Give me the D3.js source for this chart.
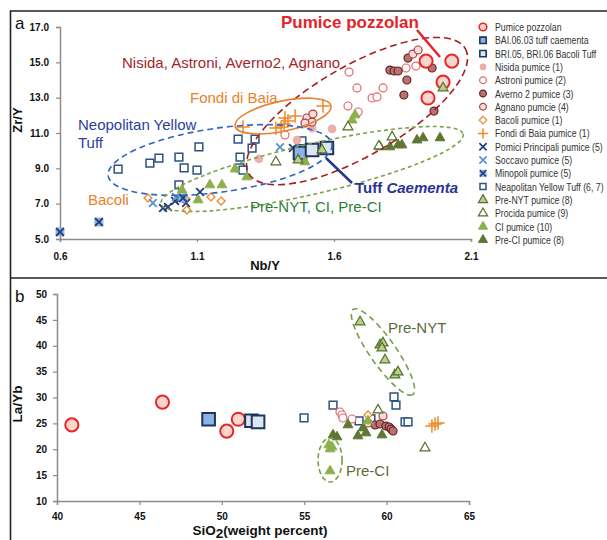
<!DOCTYPE html>
<html lang="en">
<head>
<meta charset="UTF-8">
<title>Zr/Y vs Nb/Y and La/Yb vs SiO2</title>
<style>
  body { margin: 0; background: #fff; }
  svg { display: block; font-family: "Liberation Sans", Arial, sans-serif; }
</style>
<script src="https://cdn.jsdelivr.net/npm/d3@7"></script>
</head>
<body>
<div id="graphic"></div>
<script>
// ---- panel a : Nb/Y (x) vs Zr/Y (y) ----
var pozzA = [[1.936, 15.07], [2.03, 15.07], [1.998, 13.88], [1.943, 12.98]];
var baiA = [[1.476, 9.87]];
var briA = [[1.52, 10.04], [1.574, 10.15]];
var nisidaA = [[1.326, 9.53], [1.465, 10.6], [1.52, 11.28], [1.593, 11.23]];
var astroniA = [[1.655, 14.45], [1.684, 13.55], [1.779, 13.55], [1.739, 12.98], [1.757, 13.04],
                [1.651, 12.53], [1.688, 12.19], [1.863, 14.68], [1.899, 14.79], [1.421, 10.89]];
var avernoA = [[1.804, 14.56], [1.819, 14.51], [1.834, 14.51], [1.87, 15.24], [1.958, 14.68],
               [1.855, 13.15], [1.866, 14.0], [1.965, 12.24]];
var agnanoA = [[1.501, 11.85], [1.523, 12.07], [1.52, 11.62], [1.494, 11.56], [1.888, 15.47], [1.907, 15.7]];
var bacoliA = [[0.921, 7.32], [1.063, 6.64], [1.151, 7.38], [1.188, 7.15], [1.06, 7.26]];
var fondiA = [[1.268, 11.34], [1.388, 11.28], [1.407, 11.34], [1.421, 11.85], [1.432, 11.68],
              [1.418, 11.51], [1.458, 11.96], [1.56, 12.53]];
var pomiciA = [[0.976, 6.75], [0.994, 6.81], [1.02, 7.15], [1.038, 7.26], [1.06, 7.04], [1.111, 7.66], [1.45, 10.15]];
var soccavoA = [[0.939, 7.04], [1.403, 10.2], [1.023, 7.38]];
var minopoliA = [[0.6, 5.4], [0.742, 5.96], [1.049, 7.32]];
var nytA = [[0.812, 8.96], [0.928, 9.3], [0.961, 9.58], [1.034, 9.64], [1.053, 9.02], [1.1, 8.9],
            [1.107, 10.21], [1.034, 8.06], [1.25, 10.66], [1.312, 10.66], [1.301, 10.15], [1.257, 9.64],
            [1.257, 9.02], [1.268, 8.9], [1.483, 10.55]];
var preNytA = [[1.469, 9.47], [1.556, 10.04], [1.998, 13.55]];
var procidaA = [[1.388, 9.36], [1.651, 11.34], [1.812, 10.77], [1.764, 10.26]];
var ciA = [[1.239, 8.96], [1.282, 8.51], [1.045, 7.77], [1.104, 7.21], [1.147, 8.06], [1.191, 8.06],
           [1.677, 12.02], [1.666, 11.73], [1.494, 9.36]];
var preCiA = [[1.768, 10.21], [1.804, 10.21], [1.834, 10.32], [1.848, 10.32], [1.903, 10.6], [1.925, 10.72], [1.987, 10.72]];

// ---- panel b : SiO2 (x) vs La/Yb (y) ----
var pozzB = [[40.9, 24.7], [46.4, 29.1], [50.3, 23.5], [51.0, 25.8]];
var baiB = [[49.2, 25.8]];
var briB = [[51.8, 25.5], [52.2, 25.3]];
var astroniB = [[57.17, 27.2], [57.29, 26.62], [57.35, 26.04], [57.9, 25.85]];
var avernoB = [[59.3, 24.69], [59.6, 24.88], [59.96, 24.49], [60.15, 24.3], [60.27, 23.91], [60.39, 23.53]];
var agnanoB = [[59.78, 26.43], [58.87, 25.07]];
var bacoliB = [[58.87, 26.62]];
var fondiB = [[62.75, 24.49], [62.94, 24.88], [63.12, 25.07]];
var nytB = [[54.99, 26.04], [56.75, 28.55], [58.33, 25.46], [59.05, 25.85], [60.45, 30.1], [60.57, 28.55],
            [61.12, 25.27], [61.3, 25.27]];
var preNytB = [[58.39, 44.6], [59.6, 40.14], [59.78, 40.53], [59.72, 39.56], [59.9, 37.25], [60.5, 34.35], [60.69, 34.93]];
var procidaB = [[59.48, 27.58], [62.33, 20.24]];
var ciB = [[56.5, 20.82], [56.69, 20.43], [56.57, 20.05], [56.57, 15.8], [58.87, 25.46]];
var preCiB = [[56.75, 22.75], [56.99, 22.37], [57.66, 24.69], [58.26, 22.56], [58.75, 23.14], [59.72, 22.75], [58.57, 24.1]];

// tick values
var xTicksA = [0.6, 1.1, 1.6, 2.1];
var yTicksA = [5, 7, 9, 11, 13, 15, 17];
var xTicksB = [40, 45, 50, 55, 60, 65];
var yTicksB = [10, 15, 20, 25, 30, 35, 40, 45, 50];

var legendLabels = ['Pumice pozzolan', 'BAI.06.03 tuff caementa', 'BRI.05, BRI.06 Bacoli Tuff',
  'Nisida pumice (1)', 'Astroni pumice (2)', 'Averno 2 pumice (3)', 'Agnano pumcie (4)',
  'Bacoli pumice (1)', 'Fondi di Baia pumice (1)', 'Pomici Principali pumice (5)', 'Soccavo pumice (5)',
  'Minopoli pumice (5)', 'Neapolitan Yellow Tuff (6, 7)', 'Pre-NYT pumice (8)', 'Procida pumice (9)',
  'CI pumice (10)', 'Pre-CI pumice (8)'];
var legendKeys = ['pozz', 'bai', 'bri', 'nisida', 'astroni', 'averno', 'agnano', 'bacoli', 'fondi',
  'pomici', 'soccavo', 'minopoli', 'nyt', 'preNyt', 'procida', 'ci', 'preCi'];

var styles = {
  pozz:    { shape: d3.symbolCircle, size: 135, fill: '#fcd6cc', stroke: '#e8262a', sw: 2 },
  bai:     { shape: d3.symbolSquare, size: 160, fill: '#8db3e2', stroke: '#1c355e', sw: 2 },
  bri:     { shape: d3.symbolSquare, size: 160, fill: '#dce6f2', stroke: '#1c355e', sw: 2 },
  nisida:  { shape: d3.symbolCircle, size: 60, fill: '#ebb0ac', stroke: 'none', sw: 0 },
  astroni: { shape: d3.symbolCircle, size: 50, fill: '#fff', stroke: '#e06a66', sw: 1.2 },
  averno:  { shape: d3.symbolCircle, size: 50, fill: '#b47474', stroke: '#6b1f1f', sw: 1.2 },
  agnano:  { shape: d3.symbolCircle, size: 50, fill: '#f6dcdc', stroke: '#a8413f', sw: 1.2 },
  bacoli:  { shape: d3.symbolDiamond2, size: 40, fill: '#fff', stroke: '#f08a2a', sw: 1.3 },
  fondi:   { shape: d3.symbolPlus, size: 60, fill: 'none', stroke: '#f08a2a', sw: 1.5 },
  pomici:  { shape: d3.symbolTimes, size: 40, fill: 'none', stroke: '#1f3c78', sw: 1.8 },
  soccavo: { shape: d3.symbolTimes, size: 40, fill: 'none', stroke: '#5a8fd2', sw: 1.8 },
  minopoli:{ shape: d3.symbolSquare, size: 64, fill: '#8db3e2', stroke: '#8db3e2', sw: 1, cross: '#1f3c78' },
  nyt:     { shape: d3.symbolSquare, size: 60, fill: '#fff', stroke: '#2e5282', sw: 1.5 },
  preNyt:  { shape: d3.symbolTriangle, size: 42, fill: '#b9d08e', stroke: '#566f2c', sw: 1.2 },
  procida: { shape: d3.symbolTriangle, size: 42, fill: '#fff', stroke: '#566f2c', sw: 1.2 },
  ci:      { shape: d3.symbolTriangle, size: 42, fill: '#8db04f', stroke: '#8db04f', sw: 1 },
  preCi:   { shape: d3.symbolTriangle, size: 42, fill: '#5f7733', stroke: '#5f7733', sw: 1 }
};

var width = 607, height = 540;
var svg = d3.select('#graphic').append('svg').attr('width', width).attr('height', height);

var xA = d3.scaleLinear().domain([0.6, 2.1]).range([60, 471]);
var yA = d3.scaleLinear().domain([5, 17]).range([239, 27]);
var xB = d3.scaleLinear().domain([40, 65]).range([57, 469]);
var yB = d3.scaleLinear().domain([10, 50]).range([501, 294]);

// frame
svg.append('path').attr('d', 'M10.5,540V11H607M10.5,278H607')
  .attr('fill', 'none').attr('stroke', '#222').attr('stroke-width', 1.6);

function drawMarks(g, data, x, y, key) {
  var s = styles[key];
  var sym = d3.symbol().type(s.shape).size(s.size);
  g.selectAll(null).data(data).join('path')
    .attr('d', sym)
    .attr('transform', function (d) { return 'translate(' + x(d[0]) + ',' + y(d[1]) + ')'; })
    .attr('fill', s.fill).attr('stroke', s.stroke).attr('stroke-width', s.sw);
  if (s.cross) {
    g.selectAll(null).data(data).join('path')
      .attr('d', d3.symbol().type(d3.symbolTimes).size(40))
      .attr('transform', function (d) { return 'translate(' + x(d[0]) + ',' + y(d[1]) + ')'; })
      .attr('fill', 'none').attr('stroke', s.cross).attr('stroke-width', 1.8);
  }
}

function styleAxis(g, fs) {
  g.select('.domain').attr('stroke', '#8c8c8c').attr('stroke-width', 1.5);
  g.selectAll('.tick line').attr('stroke', '#8c8c8c').attr('stroke-width', 1.2);
  g.selectAll('.tick text').attr('fill', '#111').attr('font-weight', 'bold').attr('font-size', fs)
    .attr('font-family', '"Liberation Sans", Arial, sans-serif');
}

function ellipse(g, x, y, e) {
  g.append('ellipse').attr('rx', e.rx).attr('ry', e.ry)
    .attr('transform', 'translate(' + x(e.cx) + ',' + y(e.cy) + ') rotate(' + e.rot + ')')
    .attr('fill', 'none').attr('stroke', e.color).attr('stroke-width', e.w || 1.6)
    .attr('stroke-dasharray', e.dash || null);
}

// ================= panel a =================
var gA = svg.append('g');
gA.append('g').attr('transform', 'translate(0,239)')
  .call(d3.axisBottom(xA).tickValues(xTicksA).tickFormat(d3.format('.1f')).tickSizeOuter(0).tickSize(3).tickPadding(11))
  .call(styleAxis, 10);
gA.append('g').attr('transform', 'translate(60,0)')
  .call(d3.axisLeft(yA).tickValues(yTicksA).tickFormat(d3.format('.1f')).tickSizeOuter(0).tickSize(4).tickPadding(7))
  .call(styleAxis, 10);

var seriesA = [['nyt', nytA], ['bacoli', bacoliA], ['pomici', pomiciA], ['soccavo', soccavoA], ['minopoli', minopoliA],
  ['nisida', nisidaA], ['astroni', astroniA], ['averno', avernoA], ['agnano', agnanoA], ['fondi', fondiA],
  ['pozz', pozzA], ['bai', baiA], ['bri', briA], ['ci', ciA], ['preCi', preCiA], ['procida', procidaA], ['preNyt', preNytA]];
seriesA.forEach(function (s) { drawMarks(gA, s[1], xA, yA, s[0]); });

ellipse(gA, xA, yA, { cx: 1.684, cy: 12.24, rx: 125, ry: 45, rot: -30, color: '#a31f24', dash: '7,4' });
ellipse(gA, xA, yA, { cx: 1.414, cy: 11.96, rx: 49, ry: 15, rot: -12, color: '#ea812c' });
ellipse(gA, xA, yA, { cx: 1.184, cy: 9.47, rx: 113, ry: 32, rot: -8, color: '#2f63c4', dash: '6,4' });
ellipse(gA, xA, yA, { cx: 1.52, cy: 8.96, rx: 155, ry: 25, rot: -13, color: '#7ba34a', dash: '4,3' });

// annotations
gA.append('line').attr('x1', 417).attr('y1', 30).attr('x2', 440).attr('y2', 57)
  .attr('stroke', '#e3242b').attr('stroke-width', 2.5);
gA.append('line').attr('x1', 326).attr('y1', 158).attr('x2', 352).attr('y2', 183)
  .attr('stroke', '#2b3590').attr('stroke-width', 2.5);

function note(g, txt, x, y, color, fs, weight) {
  return g.append('text').attr('x', x).attr('y', y).attr('fill', color)
    .attr('font-size', fs).attr('font-weight', weight || 'normal').text(txt);
}
note(gA, 'Pumice pozzolan', 281, 28, '#e3242b', 17, 'bold');
note(gA, 'Nisida, Astroni, Averno2, Agnano', 122, 68, '#a3262a', 15);
note(gA, 'Fondi di Baia', 190, 103, '#ea812c', 15);
note(gA, 'Neopolitan Yellow', 78, 130, '#2c3e9e', 15);
note(gA, 'Tuff', 78, 148, '#2c3e9e', 15);
note(gA, 'Bacoli', 88, 205, '#ea812c', 15);
note(gA, 'Pre-NYT, CI, Pre-CI', 250, 212, '#2e7d3a', 15);
var tc = note(gA, 'Tuff ', 355, 193, '#2b3590', 15, 'bold');
tc.append('tspan').attr('font-style', 'italic').text('Caementa');

gA.append('text').attr('x', 15).attr('y', 29).attr('font-size', 17).attr('fill', '#111').text('a');
gA.append('text').attr('transform', 'translate(22,120) rotate(-90)').attr('text-anchor', 'middle')
  .attr('font-weight', 'bold').attr('font-size', 13).attr('fill', '#111').text('Zr/Y');
gA.append('text').attr('x', 265).attr('y', 270).attr('text-anchor', 'middle')
  .attr('font-weight', 'bold').attr('font-size', 13).attr('fill', '#111').text('Nb/Y');

// legend
var leg = svg.append('g');
legendKeys.forEach(function (k, i) {
  var yy = 27 + i * 13.3;
  var s = styles[k];
  var sz = k === 'pozz' ? 45 : (k === 'bai' || k === 'bri') ? 40 : Math.min(s.size, 36);
  leg.append('path').attr('d', d3.symbol().type(s.shape).size(sz))
    .attr('transform', 'translate(483,' + yy + ')')
    .attr('fill', s.fill).attr('stroke', s.stroke).attr('stroke-width', Math.min(s.sw, 1.6));
  if (s.cross) {
    leg.append('path').attr('d', d3.symbol().type(d3.symbolTimes).size(28))
      .attr('transform', 'translate(483,' + yy + ')')
      .attr('fill', 'none').attr('stroke', s.cross).attr('stroke-width', 1.5);
  }
  leg.append('text').attr('transform', 'translate(495,' + (yy + 4) + ') scale(0.76,1)')
    .attr('font-size', 11.5).attr('fill', '#333').text(legendLabels[i]);
});

// ================= panel b =================
var gB = svg.append('g');
gB.append('g').attr('transform', 'translate(0,501)')
  .call(d3.axisBottom(xB).tickValues(xTicksB).tickSizeOuter(0).tickSize(4).tickPadding(8))
  .call(styleAxis, 10);
gB.append('g').attr('transform', 'translate(57,0)')
  .call(d3.axisLeft(yB).tickValues(yTicksB).tickSizeOuter(0).tickSize(4).tickPadding(6))
  .call(styleAxis, 10);

var seriesB = [['nyt', nytB], ['astroni', astroniB], ['bacoli', bacoliB], ['averno', avernoB], ['agnano', agnanoB],
  ['fondi', fondiB], ['pozz', pozzB], ['bai', baiB], ['bri', briB], ['preCi', preCiB], ['ci', ciB],
  ['procida', procidaB], ['preNyt', preNytB]];
seriesB.forEach(function (s) { drawMarks(gB, s[1], xB, yB, s[0]); });

ellipse(gB, xB, yB, { cx: 59.78, cy: 38.8, rx: 52, ry: 13, rot: 55, color: '#789c4c', dash: '6,4' });
ellipse(gB, xB, yB, { cx: 56.57, cy: 17.92, rx: 12, ry: 22, rot: 0, color: '#789c4c', dash: '5,3' });

note(gB, 'Pre-NYT', 388, 333, '#5b6b3a', 15);
note(gB, 'Pre-CI', 346, 476, '#5b6b3a', 15);

gB.append('text').attr('x', 15).attr('y', 302).attr('font-size', 17).attr('fill', '#111').text('b');
gB.append('text').attr('transform', 'translate(22,404) rotate(-90)').attr('text-anchor', 'middle')
  .attr('font-weight', 'bold').attr('font-size', 13.5).attr('fill', '#111').text('La/Yb');
var sx = gB.append('text').attr('x', 260).attr('y', 535).attr('text-anchor', 'middle')
  .attr('font-weight', 'bold').attr('font-size', 13.5).attr('fill', '#111');
sx.append('tspan').text('SiO');
sx.append('tspan').attr('dy', 3).text('2');
sx.append('tspan').attr('dy', -3).text('(weight percent)');
</script>
</body>
</html>
